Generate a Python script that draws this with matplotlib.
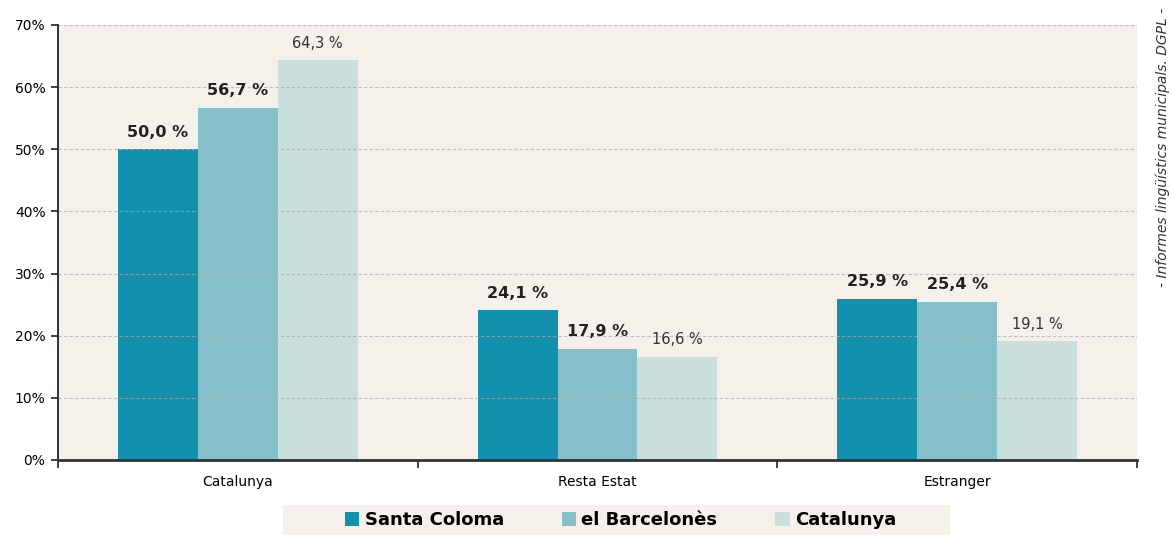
import matplotlib.pyplot as plt
import numpy as np
from matplotlib.patches import Rectangle
from matplotlib.ticker import FixedLocator, PercentFormatter

# data
categories = ['Catalunya', 'Resta Estat', 'Estranger']
series_names = ['Santa Coloma', 'el Barcelonès', 'Catalunya']
santa_coloma = [50.0, 24.1, 25.9]
barcelones = [56.7, 17.9, 25.4]
catalunya = [64.3, 16.6, 19.1]
yticks = [0, 10, 20, 30, 40, 50, 60, 70]

colors = ['#1390ad', '#85c0ca', '#c9dfde']
bg = '#f5f0ea'

fig = plt.figure(figsize=(11.73, 5.36), dpi=100)
ax = fig.add_axes([0.0494, 0.1418, 0.9199, 0.8116])
ax.set_facecolor(bg)

x = np.arange(len(categories))
width = 0.222
series = [santa_coloma, barcelones, catalunya]
for i, vals in enumerate(series):
    pos = x + (i - 1) * width
    ax.bar(pos, vals, width=width, color=colors[i], label=series_names[i],
           zorder=1, linewidth=0)
    for p, v in zip(pos, vals):
        txt = f'{v:.1f}'.replace('.', ',') + ' %'
        if i < 2:
            ax.annotate(txt, (p, v), xytext=(0, 7), textcoords='offset points',
                        ha='center', va='bottom', fontsize=11.5,
                        fontweight='bold', color='#222222')
        else:
            ax.annotate(txt, (p, v), xytext=(0, 7), textcoords='offset points',
                        ha='center', va='bottom', fontsize=10.5,
                        color='#333333')

ax.set_xlim(-0.5, 2.5)
ax.set_ylim(0, 70)
ax.set_yticks(yticks)
ax.yaxis.set_major_formatter(PercentFormatter(decimals=0))
ax.set_xticks(x)
ax.set_xticklabels(categories)
ax.xaxis.set_minor_locator(FixedLocator([-0.5, 0.5, 1.5, 2.5]))
ax.tick_params(axis='x', which='major', length=0, pad=11, labelsize=10)
ax.tick_params(axis='x', which='minor', length=6, width=1.3, color='#333333')
ax.tick_params(axis='y', length=5, width=1.3, color='#333333', labelsize=10,
               pad=4)

ax.grid(axis='y', color='#aaaaaa', linestyle=(0, (3, 2)), linewidth=0.8,
        alpha=0.7)
for s in ['top', 'right']:
    ax.spines[s].set_visible(False)
ax.spines['left'].set_color('#222222')
ax.spines['left'].set_linewidth(1.3)
ax.spines['bottom'].set_color('#333333')
ax.spines['bottom'].set_linewidth(2)

# legend: beige strip with centred entries
fig.patches.append(Rectangle((0.2413, 0.002), 0.569, 0.056, transform=fig.transFigure,
                             facecolor=bg, edgecolor='none', zorder=0))
leg = fig.legend(loc='center', ncol=3, bbox_to_anchor=(0.529, 0.030),
                 frameon=False, handlelength=0.8, handleheight=0.8,
                 handletextpad=0.3, columnspacing=3.2, borderaxespad=0,
                 prop={'weight': 'bold', 'size': 13})

fig.text(0.991, 0.725, '- Informes lingüístics municipals. DGPL -', rotation=90,
         ha='center', va='center', fontsize=10, style='italic', color='#333333')

fig.savefig('out.png', dpi=100)
